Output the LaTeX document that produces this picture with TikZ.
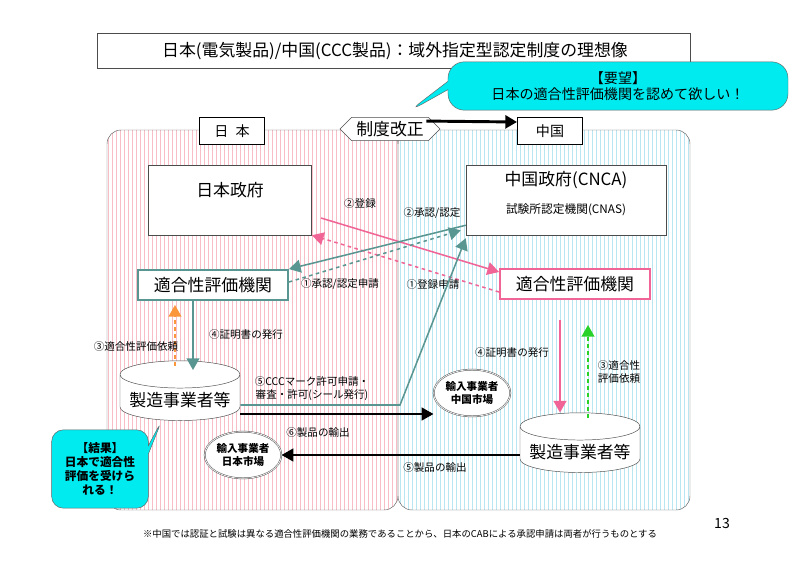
\documentclass[tikz,border=0pt]{standalone}
\usepackage{fontspec}
\setmainfont{Noto Sans CJK JP}
\usepackage{tikz}
\usetikzlibrary{arrows.meta,shapes,positioning,calc}
\definecolor{jpred}{RGB}{248,190,200}
\definecolor{cnblue}{RGB}{185,230,240}
\definecolor{cabteal}{RGB}{90,150,145}
\definecolor{cabpink}{RGB}{240,100,150}
\definecolor{callcyan}{RGB}{0,235,240}
\definecolor{reqorange}{RGB}{250,150,60}
\definecolor{reqgreen}{RGB}{40,210,40}
\tikzstyle{govbox} = [rectangle, draw=black!70, fill=white, minimum width=4.9cm, minimum height=2.1cm]
\tikzstyle{cab} = [rectangle, line width=1.6pt, fill=white, minimum width=4.5cm, minimum height=0.9cm, font=\Large]
\tikzstyle{tag} = [rectangle, draw=black, line width=0.8pt, fill=white, minimum width=1.95cm, minimum height=0.8cm, font=\large]
\tikzstyle{maker} = [cylinder, shape border rotate=90, draw=black!70, fill=white, aspect=0.25, minimum width=3.6cm, minimum height=1.7cm, font=\Large]
\tikzstyle{market} = [ellipse, draw=black!70, double, fill=white, inner sep=0pt, minimum width=2.3cm, minimum height=1.4cm, align=center, font=\small\bfseries]
\tikzstyle{lbl} = [font=\small, align=center]
\tikzstyle{flow} = [line width=1.3pt, -{Triangle[length=10pt,width=11pt]}]
\begin{document}
\begin{tikzpicture}[x=0.03cm, y=-0.03cm]
    \useasboundingbox (0,0) rectangle (800,562);
    % banner
    \draw[black!70, fill=white] (97,33) rectangle (690,68);
    \node[font=\Large] (title) at (395,51) {日本(電気製品)/中国(CCC製品)：域外指定型認定制度の理想像};
    % two regions
    \begin{scope}
        \clip[rounded corners=12pt] (107,130) rectangle (398,510);
        \foreach \x in {108,112,...,398} \draw[jpred, line width=0.3pt] (\x,130) -- (\x,510);
    \end{scope}
    \begin{scope}
        \clip[rounded corners=12pt] (398,130) rectangle (690,510);
        \foreach \x in {400,404,...,690} \draw[cnblue, line width=0.3pt] (\x,130) -- (\x,510);
    \end{scope}
    \draw[black!60, rounded corners=12pt] (107,130) rectangle (398,510);
    \draw[black!60, rounded corners=12pt] (398,130) rectangle (690,510);
    \node[tag] (jp) at (232,131) {日\enspace 本};
    \node[tag] (cn) at (550,131) {中国};
    \node[signal, signal to=west and east, draw=black!70, fill=white, minimum width=3cm, minimum height=0.65cm, font=\Large] (reform) at (390,129) {制度改正};
    \draw[line width=2.5pt, -{Triangle[length=10pt,width=11pt]}] (reform.north east) ++(-2,4) -- (cn.north west |- 0,122);
    % request callout
    \node[rectangle callout, rounded corners=14pt, fill=callcyan, draw=black!60, minimum width=10.2cm, minimum height=1.45cm, align=center, font=\large, callout absolute pointer={(408,112)}] (want) at (618,86) {【要望】\\日本の適合性評価機関を認めて欲しい！};
    % governments and CABs
    \node[govbox] (jpgov) at (230,200) {};
    \node[font=\Large] at (230,190) {日本政府};
    \node[govbox, minimum width=6cm] (cngov) at (566,200) {};
    \node[font=\Large] at (566,180) {中国政府(CNCA)};
    \node at (566,210) {試験所認定機関(CNAS)};
    \node[cab, draw=cabteal] (jpcab) at (213,285) {適合性評価機関};
    \node[cab, draw=cabpink] (cncab) at (575,284) {適合性評価機関};
    % registration
    \draw[cabpink, flow] (321,218) -- (cncab.west |- 0,272);
    \draw[cabpink, flow, dashed] (cncab.west |- 0,292) -- (jpgov.south east);
    \draw[cabteal, flow] (cngov.south west) ++(0,-10) -- (jpcab.north east);
    \draw[cabteal, flow, dashed] (jpcab.east) ++(0,-3) -- ($(cngov.south west)+(-5,-5)$);
    \node[lbl] at (360,203) {②登録};
    \node[lbl] at (432,213) {②承認/認定};
    \node[lbl] at (340,284) {①承認/認定申請};
    \node[lbl] at (433,284) {①登録申請};
    % manufacturers
    \node[maker] (jpmaker) at (180,400) {製造事業者等};
    \node[maker] (cnmaker) at (580,452) {製造事業者等};
    \node[market] (cnmarket) at (472,393) {輸入事業者\\中国市場};
    \node[market] (jpmarket) at (243,455) {輸入事業者\\日本市場};
    \draw[cabteal, flow] (jpcab.south -| 193,0) -- (193,370);
    \draw[reqorange, flow, dashed] (175,366) -- (175,305);
    \node[lbl] at (136,346) {③適合性評価依頼};
    \node[lbl] at (246,334) {④証明書の発行};
    \draw[cabpink, flow] (560,320) -- (cnmaker.north -| 560,0);
    \draw[reqgreen, flow, dashed] (588,418) -- (588,325);
    \node[lbl] at (512,352) {④証明書の発行};
    \node[lbl] at (619,372) {③適合性\\評価依頼};
    \coordinate (bend) at (400,405);
    \draw[cabteal, flow] (jpmaker.east |- 0,405) -- (bend) -- ($(cngov.south west)+(0,3)$);
    \node[lbl] at (312,389) {⑤CCCマーク許可申請・\\審査・許可(シール発行)};
    \draw[flow] (jpmaker.east |- 0,414) -- (cnmarket.west |- 0,414);
    \draw[flow] (cnmaker.west |- 0,455) -- (jpmarket.east);
    \node[lbl] at (318,432) {⑥製品の輸出};
    \node[lbl] at (435,467) {⑤製品の輸出};
    % result callout
    \node[rectangle callout, rounded corners=10pt, fill=callcyan, draw=black!60, minimum width=2.9cm, minimum height=2.35cm, align=center, font=\bfseries, callout absolute pointer={(162,420)}] (result) at (100,469) {【結果】\\日本で適合性\\評価を受けら\\れる！};
    \node[font=\footnotesize] (note) at (400,534) {※中国では認証と試験は異なる適合性評価機関の業務であることから、日本のCABによる承認申請は両者が行うものとする};
    \node[font=\large] (page) at (722,523) {13};
\end{tikzpicture}
\end{document}
